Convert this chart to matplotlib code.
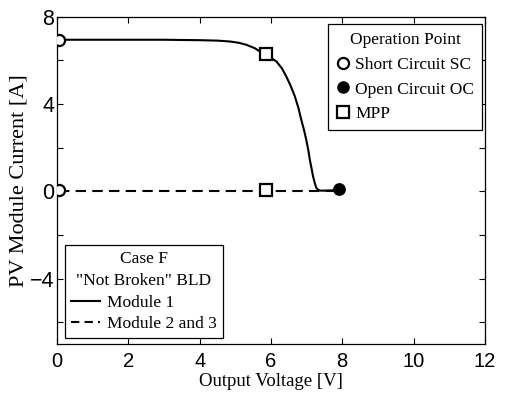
import matplotlib
matplotlib.use("Agg")
import matplotlib.pyplot as plt
from matplotlib.lines import Line2D

# Data
m1_v = [0.05, 1.0, 2.0, 3.0, 3.45, 4.0, 4.5, 4.85, 5.1, 5.31, 5.55, 5.83, 6.0, 6.15, 6.3, 6.43, 6.55, 6.67, 6.77, 6.85, 6.93, 6.99, 7.05, 7.09, 7.14, 7.18, 7.23, 7.27, 7.33, 7.41, 7.6, 7.91]
m1_i = [6.95, 6.95, 6.95, 6.95, 6.94, 6.93, 6.91, 6.87, 6.81, 6.72, 6.56, 6.26, 6.12, 5.96, 5.66, 5.27, 4.85, 4.36, 3.83, 3.29, 2.8, 2.37, 1.88, 1.46, 1.05, 0.7, 0.38, 0.17, 0.06, 0.03, 0.04, 0.06]
m23_v = [0.05, 5.85, 7.91]
m23_i = [0.0, 0.0, 0.0]
sc_v = [0.05, 0.05]
sc_i = [6.95, 0.05]
mpp_v = [5.85, 5.85]
mpp_i = [6.3, 0.05]
oc_v = [7.91]
oc_i = [0.09]

xticks = [0, 2, 4, 6, 8, 10, 12]
yticks = [-6, -4, -2, 0, 2, 4, 6, 8]
ylabels = ["", "\u22124", "", "0", "", "4", "", "8"]

serif = "Liberation Serif"
sans = "Liberation Sans"

fig = plt.figure(figsize=(5.05, 4.01), dpi=100)
ax = fig.add_axes([0.113, 0.142, 0.847, 0.816])

ax.plot(m1_v, m1_i, color="black", lw=1.5, solid_capstyle="butt")
ax.plot(m23_v, m23_i, color="black", lw=1.5, ls=(0, (5, 3)))
ax.plot(sc_v, sc_i, ls="none", marker="o", ms=8, mfc="white", mec="black", mew=1.6, zorder=5)
ax.plot(mpp_v, mpp_i, ls="none", marker="s", ms=8, mfc="white", mec="black", mew=1.6, zorder=5)
ax.plot(oc_v, oc_i, ls="none", marker="o", ms=8, mfc="black", mec="black", mew=1.2, zorder=5)

ax.set_xlim(0, 12)
ax.set_ylim(-7, 8)
ax.set_xticks(xticks)
ax.set_yticks(yticks)
ax.set_yticklabels(ylabels)
ax.tick_params(direction="in", top=True, right=True, length=4, width=0.8)
ax.tick_params(axis="x", labelsize=14.5, pad=6)
ax.tick_params(axis="y", labelsize=15.5, pad=2)
for lab in ax.get_xticklabels() + ax.get_yticklabels():
    lab.set_fontfamily(sans)
for s in ax.spines.values():
    s.set_linewidth(0.9)

ax.set_xlabel("Output Voltage [V]", fontfamily=serif, fontsize=13.5, labelpad=1)
ax.set_ylabel("PV Module Current [A]", fontfamily=serif, fontsize=16, labelpad=1)

h1 = [Line2D([], [], ls="none", marker="o", ms=8, mfc="white", mec="black", mew=1.6),
      Line2D([], [], ls="none", marker="o", ms=8, mfc="black", mec="black"),
      Line2D([], [], ls="none", marker="s", ms=8, mfc="white", mec="black", mew=1.6)]
leg1 = ax.legend(h1, ["Short Circuit SC", "Open Circuit OC", "MPP"], title="Operation Point",
                 loc="upper right", bbox_to_anchor=(0.993, 0.978), frameon=True, fancybox=False,
                 edgecolor="black", framealpha=1, handlelength=0.8, handletextpad=0.3,
                 borderpad=0.45, labelspacing=0.5, borderaxespad=0,
                 prop={"family": serif, "size": 12.5}, title_fontproperties={"family": serif, "size": 12.5})
leg1.get_frame().set_linewidth(0.9)
ax.add_artist(leg1)

h2 = [Line2D([], [], color="black", lw=1.5),
      Line2D([], [], color="black", lw=1.5, ls=(0, (4, 2.5)))]
leg2 = ax.legend(h2, ["Module 1", "Module 2 and 3"], title='Case F\n"Not Broken" BLD',
                 loc="lower left", bbox_to_anchor=(0.018, 0.018), frameon=True, fancybox=False,
                 edgecolor="black", framealpha=1, handlelength=1.7, handletextpad=0.4,
                 borderpad=0.35, labelspacing=0.3, borderaxespad=0,
                 prop={"family": serif, "size": 12.5}, title_fontproperties={"family": serif, "size": 12.5})
leg2.get_frame().set_linewidth(0.9)
leg2.get_title().set_multialignment("center")
leg2.get_title().set_linespacing(1.5)

fig.savefig("out.png", dpi=100)
